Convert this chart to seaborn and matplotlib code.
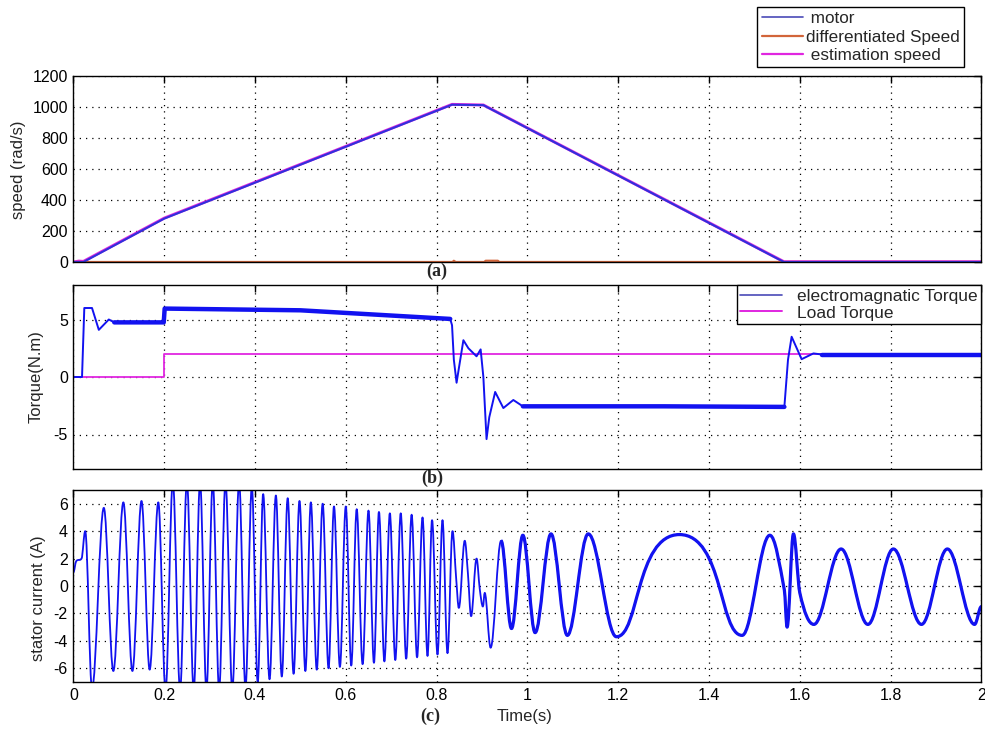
import numpy as np
import pandas as pd
import seaborn as sns
import matplotlib
matplotlib.use("Agg")
import matplotlib.pyplot as plt
from matplotlib.lines import Line2D
from matplotlib.path import Path
from matplotlib.patches import PathPatch

# ---------------- data ----------------
# (a) speed
speed_t = [0.0, 0.022, 0.2, 0.834, 0.903, 1.565, 2.0]
motor_speed = [0, 0, 280, 1015, 1012, 0, 0]
est_t = [0.0, 0.012, 0.022, 0.2, 0.834, 0.903, 1.565, 2.0]
estimation_speed = [0, 6, 4, 283, 1017, 1013, 2, 2]
diff_t = [0.0, 0.835, 0.838, 0.842, 0.905, 0.908, 0.935, 0.938, 2.0]
diff_speed = [0, 0, 8, 0, 0, 8, 8, 0, 0]

# (b) torque
te_t = [0.0, 0.019, 0.024, 0.041, 0.056, 0.078, 0.09, 0.199, 0.201, 0.5, 0.830,
        0.834, 0.838, 0.844, 0.848, 0.859, 0.870, 0.888, 0.897, 0.903, 0.910,
        0.916, 0.929, 0.947, 0.969, 0.990, 1.3, 1.566, 1.574, 1.582, 1.604,
        1.63, 1.65, 2.0]
te = [0, 0, 6.0, 6.0, 4.1, 5.0, 4.75, 4.75, 5.95, 5.8, 5.05,
      4.5, 1.5, -0.5, 0.5, 3.2, 2.5, 1.8, 2.4, 0.0, -5.4,
      -3.5, -1.3, -2.7, -2.0, -2.55, -2.55, -2.6, 1.5, 3.5, 1.55,
      2.05, 1.95, 1.95]
load_t = [0.0, 0.2, 0.2, 2.0]
load_torque = [0, 0, 2, 2]

# (c) stator current: extrema and shape points (time, value)
cur_t = [0.000, 0.006, 0.018, 0.026, 0.041, 0.067, 0.088, 0.110, 0.130, 0.150,
         0.168, 0.187, 0.203, 0.219, 0.235, 0.250, 0.265, 0.279, 0.293, 0.307,
         0.321, 0.335, 0.350, 0.365, 0.379, 0.393, 0.406, 0.418, 0.432, 0.446,
         0.459, 0.472, 0.485, 0.498, 0.511, 0.523, 0.536, 0.549, 0.562, 0.574,
         0.587, 0.600, 0.612, 0.624, 0.637, 0.650, 0.662, 0.673, 0.685, 0.697,
         0.709, 0.721, 0.733, 0.745, 0.757, 0.769, 0.780, 0.790, 0.802, 0.813,
         0.824, 0.835, 0.843, 0.849, 0.862, 0.869, 0.876, 0.888, 0.895, 0.902,
         0.906, 0.919, 0.942, 0.965, 0.990, 1.017, 1.052, 1.088, 1.134, 1.196,
         1.335, 1.473, 1.534, 1.566, 1.572, 1.586, 1.600, 1.631,
         1.691, 1.750, 1.806, 1.868, 1.925, 1.985, 2.000]
cur_v = [1.0, 1.8, 2.0, 4.0, -7.5, 5.7, -6.2, 6.1, -6.2, 6.2,
         -6.1, 6.1, -7.6, 7.6, -7.6, 7.6, -7.6, 7.6, -7.6, 7.6,
         -7.6, 7.6, -7.6, 7.6, -7.4, 7.2, -7.0, 6.7, -6.8, 6.6,
         -6.6, 6.4, -6.4, 6.2, -6.2, 6.1, -6.1, 6.0, -6.0, 5.8,
         -5.9, 5.8, -5.8, 5.6, -5.7, 5.5, -5.6, 5.4, -5.5, 5.3,
         -5.4, 5.3, -5.3, 5.2, -5.2, 5.0, -5.1, 4.8, -5.0, 4.8,
         -4.9, 4.0, 0.6, -1.6, 3.3, 0.9, -2.2, 2.0, -0.2, -1.5,
         -0.5, -4.5, 3.3, -3.1, 3.7, -3.4, 3.8, -3.6, 3.8, -3.7,
         3.75, -3.6, 3.7, -0.3, -3.0, 3.8, -0.5, -2.8,
         2.7, -2.8, 2.7, -2.8, 2.7, -2.8, -1.5]
# the one broad (flat-topped) crest of the current wave
broad_crest_t = [1.335]

xticks = [0, 0.2, 0.4, 0.6, 0.8, 1.0, 1.2, 1.4, 1.6, 1.8, 2.0]
xticklabels = ["0", "0.2", "0.4", "0.6", "0.8", "1", "1.2", "1.4", "1.6", "1.8", "2"]

# ---------------- styling ----------------
sns.set_theme(style="white")
plt.rcParams["font.family"] = ["Liberation Sans", "DejaVu Sans"]
plt.rcParams["axes.unicode_minus"] = False

W, H = 985, 729
fig = plt.figure(figsize=(W / 100, H / 100), dpi=100)
fig.patch.set_facecolor("white")

L = 73.4 / W
AW = 908 / W
ax_a = fig.add_axes([L, 1 - 262 / H, AW, 186 / H])
ax_b = fig.add_axes([L, 1 - 469 / H, AW, 184 / H])
ax_c = fig.add_axes([L, 1 - 682 / H, AW, 192 / H])

BLUE_A = "#3030dc"
ORANGE = "#d2653a"
MAGENTA = "#e026e0"
BLUE = "#1212f0"


def style_axes(ax, yticks, ylim, show_x):
    ax.set_xlim(0, 2)
    ax.set_ylim(*ylim)
    ax.set_xticks(xticks)
    ax.set_yticks(yticks)
    if show_x:
        ax.set_xticklabels(xticklabels)
    else:
        ax.set_xticklabels([])
    ax.grid(True, color="black", linestyle=(0, (1, 4)), linewidth=0.9)
    ax.tick_params(direction="in", length=5, width=1, top=True, right=True,
                   labelsize=11.5, pad=4, colors="black")
    for s in ax.spines.values():
        s.set_visible(True)
        s.set_color("black")
        s.set_linewidth(1.0)
    ax.set_xlabel("")
    ax.set_ylabel("")
    ax.set_facecolor("white")
    leg = ax.get_legend()
    if leg is not None:
        leg.remove()


# (a) speed
sns.lineplot(x=est_t, y=estimation_speed, ax=ax_a, color=MAGENTA, lw=2.1,
             estimator=None, sort=False)
sns.lineplot(x=diff_t, y=diff_speed, ax=ax_a, color=ORANGE, lw=1.6,
             estimator=None, sort=False)
sns.lineplot(x=speed_t, y=motor_speed, ax=ax_a, color=BLUE_A, lw=1.5,
             estimator=None, sort=False)
style_axes(ax_a, [0, 200, 400, 600, 800, 1000, 1200], (0, 1200), False)

# (b) torque
sns.lineplot(x=load_t, y=load_torque, ax=ax_b, color=MAGENTA, lw=1.3,
             estimator=None, sort=False)
sns.lineplot(x=te_t, y=te, ax=ax_b, color=BLUE, lw=1.4,
             estimator=None, sort=False)
te_df = pd.DataFrame({"t": te_t, "v": te})
for lo, hi in [(0.09, 0.830), (0.990, 1.566), (1.65, 2.0)]:
    seg = te_df[(te_df.t >= lo) & (te_df.t <= hi)]
    sns.lineplot(x=seg.t.values, y=seg.v.values, ax=ax_b, color=BLUE, lw=3.2,
                 estimator=None, sort=False)
style_axes(ax_b, [-5, 0, 5], (-8, 8), False)


# (c) stator current: smooth library-drawn Bezier curve through the read points
def smooth_path(ts, vs):
    n = len(ts)
    slopes, reach = [], []
    for i in range(n):
        reach.append(0.7 if ts[i] in broad_crest_t else None)
        if i == 0 or i == n - 1:
            slopes.append(0.0)
            continue
        s0 = (vs[i] - vs[i - 1]) / (ts[i] - ts[i - 1])
        s1 = (vs[i + 1] - vs[i]) / (ts[i + 1] - ts[i])
        if s0 * s1 <= 0:          # local extremum: horizontal tangent
            slopes.append(0.0)
        else:                     # monotone-limited tangent
            m = (vs[i + 1] - vs[i - 1]) / (ts[i + 1] - ts[i - 1])
            lim = 3.0 * min(abs(s0), abs(s1))
            slopes.append(max(-lim, min(lim, m)))

    def arm(i):
        if reach[i] is not None:
            return reach[i]
        return 0.363 if slopes[i] == 0 else 1 / 3

    verts = [(ts[0], vs[0])]
    codes = [Path.MOVETO]
    for i in range(n - 1):
        t0, v0, t1, v1 = ts[i], vs[i], ts[i + 1], vs[i + 1]
        dt = t1 - t0
        a0, a1 = arm(i), arm(i + 1)
        verts += [(t0 + a0 * dt, v0 + slopes[i] * a0 * dt),
                  (t1 - a1 * dt, v1 - slopes[i + 1] * a1 * dt),
                  (t1, v1)]
        codes += [Path.CURVE4] * 3
    return Path(verts, codes)


ax_c.add_patch(PathPatch(smooth_path(cur_t, cur_v), fill=False,
                         edgecolor=BLUE, lw=1.3, joinstyle="round"))
i0 = cur_t.index(0.942)
ax_c.add_patch(PathPatch(smooth_path(cur_t[i0:], cur_v[i0:]), fill=False,
                         edgecolor=BLUE, lw=2.3, joinstyle="round"))
style_axes(ax_c, [-6, -4, -2, 0, 2, 4, 6], (-7, 7), True)

# legends
h_a = [Line2D([], [], color="#4a4ab8", lw=1.2),
       Line2D([], [], color=ORANGE, lw=1.6),
       Line2D([], [], color=MAGENTA, lw=1.6)]
lab_a = [" motor", "differentiated Speed", " estimation speed"]
fig.legend(h_a, lab_a, loc="upper right",
           bbox_to_anchor=(964 / W, 1 - 7 / H), bbox_transform=fig.transFigure,
           fontsize=12.3, frameon=True, fancybox=False, framealpha=1,
           edgecolor="black", handlelength=2.4, handletextpad=0.2,
           borderpad=0.25, labelspacing=0.2, borderaxespad=0)

h_b = [Line2D([], [], color="#4a4ab8", lw=1.2),
       Line2D([], [], color=MAGENTA, lw=1.4)]
lab_b = ["electromagnatic Torque", "Load Torque"]
lg = ax_b.legend(h_b, lab_b, loc="upper right", fontsize=12.5, frameon=True,
                 fancybox=False, framealpha=1, edgecolor="black",
                 handlelength=2.4, handletextpad=0.9, borderpad=0.2,
                 labelspacing=0.1, borderaxespad=0)
lg.get_frame().set_linewidth(1.0)

# labels
fig.text(19 / W, 1 - 170 / H, "speed (rad/s)", rotation=90, ha="center",
         va="center", fontsize=12)
fig.text(36 / W, 1 - 377 / H, "Torque(N.m)", rotation=90, ha="center",
         va="center", fontsize=12)
fig.text(39 / W, 1 - 598 / H, "stator current (A)", rotation=90, ha="center",
         va="center", fontsize=12)
fig.text(525 / W, 1 - 716 / H, "Time(s)", ha="center", va="center", fontsize=12)
for lbl, x, y in [("(a)", 437, 271), ("(b)", 432, 478), ("(c)", 430, 716)]:
    fig.text(x / W, 1 - y / H, lbl, ha="center", va="center", fontsize=13,
             fontweight="bold", family=["Liberation Serif", "DejaVu Serif"])

fig.savefig("out.png", dpi=100, facecolor="white")
